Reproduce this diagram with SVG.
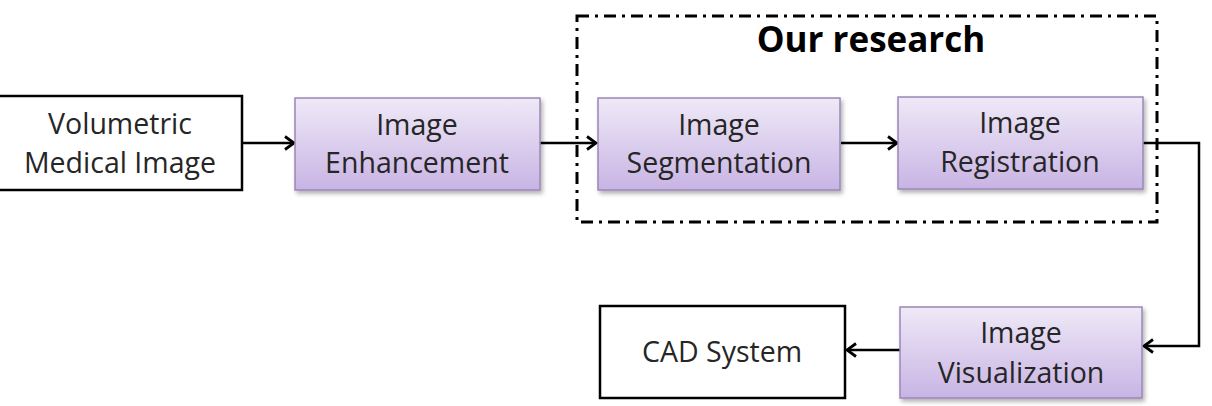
<svg xmlns="http://www.w3.org/2000/svg" width="1212" height="406" viewBox="0 0 1212 406">
<style>
.t{font-family:"Open Sans","Liberation Sans",sans-serif;font-size:28.5px;fill:#262626;text-anchor:middle}
.p{fill:url(#g);stroke:#9a87b8;stroke-width:1.5;filter:url(#sh)}
.w{fill:#fff;stroke:#000;stroke-width:2.5}
.c{fill:none;stroke:#000;stroke-width:2.5}
</style>
<defs>
<linearGradient id="g" x1="0" y1="0" x2="0" y2="1">
<stop offset="0" stop-color="#efe9f7"/>
<stop offset="1" stop-color="#c8b4e4"/>
</linearGradient>
<filter id="sh" x="-10%" y="-10%" width="125%" height="130%">
<feDropShadow dx="2" dy="3" stdDeviation="2" flood-color="#000" flood-opacity="0.3"/>
</filter>
<marker id="a" markerWidth="14" markerHeight="16" refX="12" refY="8" orient="auto" markerUnits="userSpaceOnUse">
<path d="M3,1.5 L12,8 L3,14.5" fill="none" stroke="#000" stroke-width="2.8"/>
</marker>
</defs>
<g id="research-boundary">
<rect x="577" y="16" width="580" height="206" fill="none" stroke="#000" stroke-width="3" stroke-dasharray="12 6 3 6"/>
<text x="871" y="52" style="font-family:'Open Sans','Liberation Sans',sans-serif;font-size:35px;font-weight:bold;fill:#000;text-anchor:middle">Our research</text>
</g>
<g id="connectors">
<line class="c" x1="242" y1="143" x2="294" y2="143" marker-end="url(#a)"/>
<line class="c" x1="540" y1="143" x2="596" y2="143" marker-end="url(#a)"/>
<line class="c" x1="841" y1="143" x2="897" y2="143" marker-end="url(#a)"/>
<polyline class="c" points="1143,143 1199,143 1199,346 1144,346" marker-end="url(#a)"/>
<line class="c" x1="900" y1="350" x2="847" y2="350" marker-end="url(#a)"/>
</g>
<g id="volumetric">
<rect class="w" x="-2" y="96" width="244" height="94"/>
<text class="t" x="120" y="134">Volumetric</text>
<text class="t" x="120" y="173">Medical Image</text>
</g>
<g id="enhancement">
<rect class="p" x="295" y="98" width="245" height="92"/>
<text class="t" x="417" y="135">Image</text>
<text class="t" x="417" y="173">Enhancement</text>
</g>
<g id="segmentation">
<rect class="p" x="598" y="98" width="242" height="92"/>
<text class="t" x="719" y="135">Image</text>
<text class="t" x="719" y="173">Segmentation</text>
</g>
<g id="registration">
<rect class="p" x="898" y="97" width="245" height="92"/>
<text class="t" x="1020" y="133">Image</text>
<text class="t" x="1020" y="172">Registration</text>
</g>
<g id="visualization">
<rect class="p" x="900" y="307" width="242" height="91"/>
<text class="t" x="1021" y="343">Image</text>
<text class="t" x="1021" y="383">Visualization</text>
</g>
<g id="cad">
<rect class="w" x="600" y="306" width="245" height="92"/>
<text class="t" x="722" y="362">CAD System</text>
</g>
</svg>
